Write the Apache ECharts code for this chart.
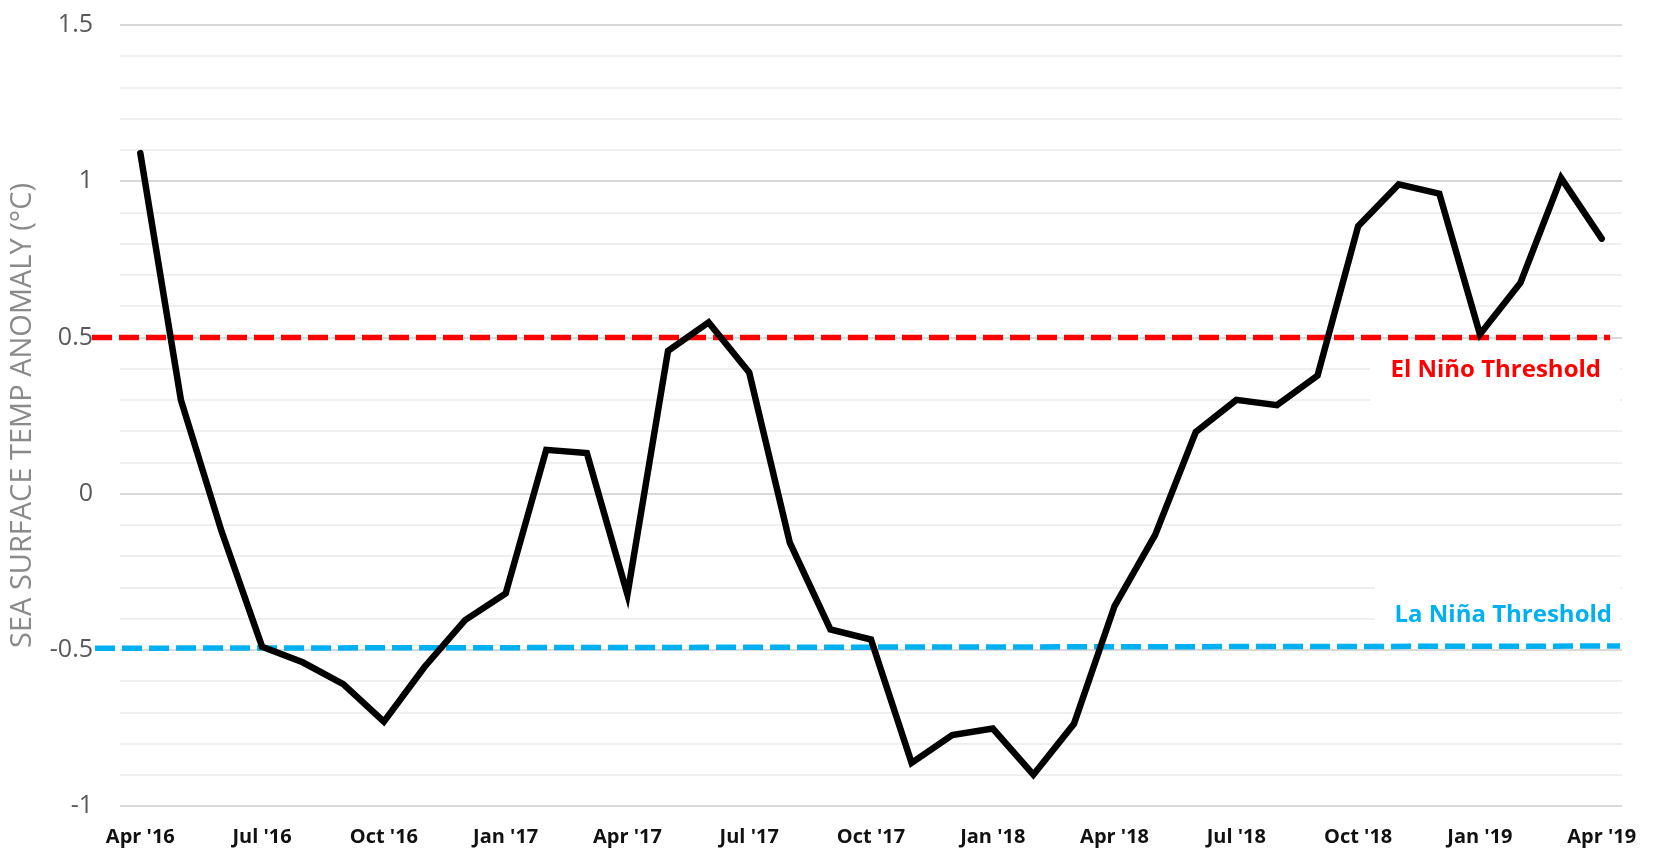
<!DOCTYPE html>
<html>
<head>
<meta charset="utf-8">
<script src="https://cdn.jsdelivr.net/npm/echarts@6/dist/echarts.min.js"></script>
<style>
  html, body { margin: 0; padding: 0; background: #ffffff; }
  #chart { width: 1657px; height: 849px; }
</style>
</head>
<body>
<div id="chart"></div>
<script>
const months = ["Apr '16","May '16","Jun '16","Jul '16","Aug '16","Sep '16","Oct '16","Nov '16","Dec '16",
  "Jan '17","Feb '17","Mar '17","Apr '17","May '17","Jun '17","Jul '17","Aug '17","Sep '17","Oct '17","Nov '17","Dec '17",
  "Jan '18","Feb '18","Mar '18","Apr '18","May '18","Jun '18","Jul '18","Aug '18","Sep '18","Oct '18","Nov '18","Dec '18",
  "Jan '19","Feb '19","Mar '19","Apr '19"];
const anomaly = [1.09, 0.30, -0.12, -0.49, -0.54, -0.61, -0.73, -0.555, -0.405,
  -0.32, 0.14, 0.13, -0.323, 0.457, 0.548, 0.388, -0.157, -0.435, -0.467, -0.862, -0.773,
  -0.752, -0.90, -0.737, -0.36, -0.132, 0.197, 0.30, 0.283, 0.378, 0.856, 0.99, 0.96,
  0.51, 0.675, 1.01, 0.816];
const elNinoThreshold = [[0, 0.5], [0.9935, 0.5]];
const laNinaThreshold = [[0.002, -0.495], [1, -0.488]];
const yTicks = { min: -1, max: 1.5, interval: 0.5 };
const elNinoLabel = "El Niño Threshold";
const laNinaLabel = "La Niña Threshold";
const yTitle = "SEA SURFACE TEMP ANOMALY (°C)";

const chart = echarts.init(document.getElementById('chart'), null, { renderer: 'canvas' });
const FONT = "'Open Sans', 'DejaVu Sans', sans-serif";

chart.setOption({
  animation: false,
  backgroundColor: '#ffffff',
  grid: [
    { left: 120, right: 35, top: 25, bottom: 43, containLabel: false, outerBoundsMode: 'none' },
    { left: 92, right: 37, top: 25, bottom: 43, containLabel: false, outerBoundsMode: 'none' }
  ],
  xAxis: [
    {
      type: 'category', gridIndex: 0, data: months, boundaryGap: true,
      axisLine: { show: false }, axisTick: { show: false },
      axisLabel: { interval: 2, margin: 21, fontFamily: FONT, fontSize: 20, fontWeight: 'bold', color: '#111111' },
      splitLine: { show: false }
    },
    { type: 'value', gridIndex: 1, min: 0, max: 1, show: false }
  ],
  yAxis: [
    {
      type: 'value', gridIndex: 0, min: yTicks.min, max: yTicks.max, interval: yTicks.interval,
      name: yTitle, nameLocation: 'middle', nameRotate: 90, nameGap: 83,
      nameTextStyle: { fontFamily: FONT, fontSize: 29, color: '#8a8a8a' },
      axisLine: { show: false }, axisTick: { show: false },
      axisLabel: { margin: 27, fontFamily: FONT, fontSize: 25, color: '#595959' },
      splitLine: { show: true, lineStyle: { color: '#d9d9d9', width: 2 } },
      minorTick: { show: false, splitNumber: 5 },
      minorSplitLine: { show: true, lineStyle: { color: '#efefef', width: 2 } }
    },
    { type: 'value', gridIndex: 1, min: yTicks.min, max: yTicks.max, show: false }
  ],
  graphic: [
    { type: 'rect', z: 1, shape: { x: 1370, y: 348, width: 250, height: 58 }, style: { fill: '#ffffff' } },
    { type: 'text', z: 1, x: 1601, y: 370, style: { text: elNinoLabel, fill: '#ff0000', font: "bold 24px 'Open Sans', sans-serif", textAlign: 'right', textVerticalAlign: 'middle' } },
    { type: 'rect', z: 1, shape: { x: 1375, y: 578, width: 245, height: 56 }, style: { fill: '#ffffff' } },
    { type: 'text', z: 1, x: 1612, y: 615, style: { text: laNinaLabel, fill: '#00b0f0', font: "bold 24px 'Open Sans', sans-serif", textAlign: 'right', textVerticalAlign: 'middle' } }
  ],
  series: [
    {
      type: 'line', xAxisIndex: 1, yAxisIndex: 1, data: elNinoThreshold, symbol: 'none', z: 3,
      lineStyle: { color: '#ff0000', width: 5.5, type: [20, 7], cap: 'butt' }
    },
    {
      type: 'line', xAxisIndex: 1, yAxisIndex: 1, data: laNinaThreshold, symbol: 'none', z: 3,
      lineStyle: { color: '#00b0f0', width: 5.5, type: [20, 7], cap: 'butt' }
    },
    {
      type: 'line', xAxisIndex: 0, yAxisIndex: 0, data: anomaly, symbol: 'none', z: 4,
      lineStyle: { color: '#000000', width: 6.5, cap: 'round', join: 'miter' }
    }
  ]
});
</script>
</body>
</html>
